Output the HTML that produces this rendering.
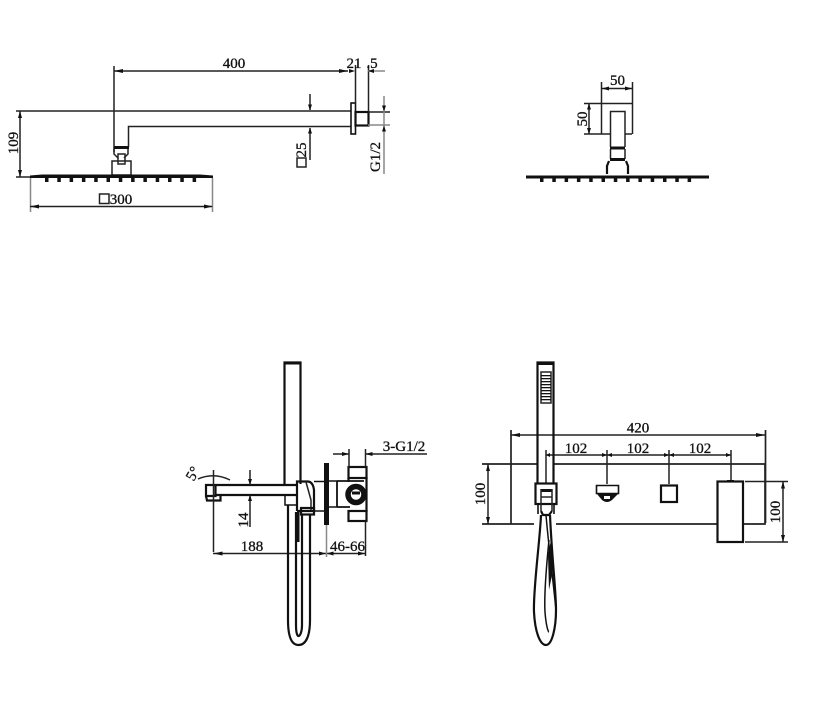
<!DOCTYPE html>
<html><head><meta charset="utf-8"><style>
html,body{margin:0;padding:0;background:#fff;width:818px;height:721px;overflow:hidden}
svg{display:block}
text{font-family:"Liberation Serif",serif;font-size:15px;fill:#111;stroke:#111;stroke-width:.3;text-anchor:middle}
.t{stroke:#111;fill:none;stroke-width:2.200}
.m{stroke:#222;fill:none;stroke-width:1.500}
.g{stroke:#888;fill:none;stroke-width:1.500}
.a{fill:#111;stroke:none}
</style></head><body>
<svg width="818" height="721" viewBox="0 0 818 721">
<defs>
<g id="noz" class="a">
<rect x="0" y="0" width="3.500" height="4"/>
</g>
</defs>

<!-- TOP LEFT: side view -->
<path class="m" d="M114 66V152M114 71H348"/>
<path class="a" d="M114 71l9-2v4zM348 71l-9-2v4z"/>
<path class="m" d="M16 111H351"/>
<path class="m" d="M128.500 147V126.500H351"/>
<rect x="114" y="146" width="15" height="3" class="a"/>
<path class="m" d="M114 149v5l4 4M128 149v5l-4 4"/>
<rect x="118" y="154" width="7" height="10" class="m"/>
<rect x="112" y="161" width="19" height="14" class="m"/>
<rect x="351" y="103" width="4.500" height="31" class="t" style="stroke-width:1.600"/>
<rect x="355.500" y="112" width="13" height="13.500" class="t"/>
<path class="m" d="M355.500 65V103M368.500 65V112"/>
<path class="g" d="M368 71H385"/>
<path class="a" d="M355 71l-6-2v4zM368 71l6-2v4z"/>
<path class="m" d="M368 112H390"/>
<path class="g" d="M368 125H390"/>
<path class="g" d="M384 96V174"/>
<path class="a" d="M384 111.500l-2-6h4zM384 125.500l-2 6h4z"/>
<path class="m" d="M310 94V110M310 128V160"/>
<path class="a" d="M310 110.500l-2-6h4zM310 127.500l-2 6h4z"/>
<rect x="297" y="158" width="9" height="9" class="m"/>
<text transform="translate(306,150) rotate(-90)" x="0" y="0">25</text>
<text transform="translate(380,157) rotate(-90)">G1/2</text>
<text x="234" y="68">400</text>
<text x="354" y="68">21</text>
<text x="372" y="68">.5</text>
<path class="m" d="M20 111V177M16 177H31"/>
<path class="a" d="M20 111l-2 7h4zM20 177l-2-7h4z"/>
<text transform="translate(18,143) rotate(-90)">109</text>
<path class="a" d="M30 175.500L42 174.500H200L213 175.500V178H30z"/>
<g id="nl">
<use href="#noz" x="45" y="178"/><use href="#noz" x="57.300" y="178"/><use href="#noz" x="69.600" y="178"/><use href="#noz" x="81.900" y="178"/><use href="#noz" x="94.200" y="178"/><use href="#noz" x="106.500" y="178"/><use href="#noz" x="118.800" y="178"/><use href="#noz" x="131.100" y="178"/><use href="#noz" x="143.400" y="178"/><use href="#noz" x="155.700" y="178"/><use href="#noz" x="168" y="178"/><use href="#noz" x="180.300" y="178"/><use href="#noz" x="192.600" y="178"/>
</g>
<path class="g" d="M30.500 178V212M212.500 178V212"/>
<path class="m" d="M30 206.500H212"/>
<path class="a" d="M30 206.500l9-2v4zM213 206.500l-9-2v4z"/>
<rect x="99.500" y="194" width="9.500" height="9.500" class="m"/>
<text x="121" y="204">300</text>

<!-- TOP RIGHT: front view -->
<path class="m" d="M601.500 134V103.500H632.500V134"/>
<path class="m" d="M601 134H610M625 134H632"/>
<path class="m" d="M610.500 147V111.500H625V147"/>
<path class="m" d="M584 103.500H601M584 134H601"/>
<path class="m" d="M589 103.500V134"/>
<path class="a" d="M589 103.500l-2 6h4zM589 134l-2-6h4z"/>
<path class="m" d="M601.500 82V103M632.500 82V103M601.500 88.500H632.500"/>
<path class="a" d="M602 88.500l7-2v4zM632 88.500l-7-2v4z"/>
<text x="617.500" y="85">50</text>
<text transform="translate(587,119) rotate(-90)">50</text>
<rect x="610" y="146.500" width="15" height="3" class="a"/>
<path class="m" d="M610.500 149V159M625 149V159"/>
<rect x="610" y="158" width="15" height="3" class="a"/>
<path class="t" d="M609 161L607 166V174M626 161L628 166V174"/>
<path class="a" d="M526 175.500H709V178.500H526z"/>
<use href="#nl" x="495" y="0"/>

<!-- BOTTOM LEFT: side view -->
<path class="t" d="M284.500 484V362.500H300.500V484"/>
<rect x="284" y="362" width="17" height="2.500" class="a"/>
<path class="t" d="M296 485H215.500V496H206V485H216"/>
<path class="t" d="M296 495H216"/>
<path class="t" d="M206 496l1 4.500H220.500V496"/>
<path class="m" d="M213.500 470V552"/>
<path class="m" d="M198 479Q214 472 230 480"/>
<text transform="translate(197,476) rotate(-60)" style="font-size:15px">5°</text>
<path class="m" d="M250 470V485M250 495V527"/>
<path class="a" d="M250 485l-2-6h4zM250 495l-2 6h4z"/>
<text transform="translate(248,520) rotate(-90)">14</text>
<rect x="285" y="495" width="12" height="10" class="t" style="stroke-width:1.500"/>
<path class="t" d="M297 511V481.500H308Q313 482 314 490V511H297"/>
<path class="m" d="M306 482L311 500V510"/>
<rect x="301" y="508" width="13" height="6.500" class="t"/>
<rect x="297" y="510" width="2.500" height="32" class="a"/>
<path class="t" d="M314 481.500H326M314 511H326" style="stroke-width:1.500"/>
<rect x="324" y="463" width="5" height="62" class="a"/>
<path class="t" d="M329 481H337M329 507H337" style="stroke-width:1.500"/>
<path class="t" d="M337 481V507M337 481H364M337 507H350" style="stroke-width:1.800"/>
<rect x="348.500" y="467" width="18" height="11" class="t"/>
<rect x="348.500" y="511" width="18" height="10" class="t"/>
<path class="t" d="M348.500 478V482M366.500 477V512"/>
<circle cx="356" cy="494.500" r="8" style="fill:none;stroke:#111;stroke-width:5.500"/>
<rect x="352" y="491.500" width="8" height="3" class="a"/>
<path class="m" d="M349 449V467M365.500 449V467"/>
<path class="m" d="M333 454H349M365.500 454H427"/>
<path class="a" d="M349 454l-7-2v4zM365.500 454l7-2v4z"/>
<text x="404" y="451">3-G1/2</text>
<path class="m" d="M213 553.500H365"/>
<path class="a" d="M213.500 553.500l9-2v4zM326 553.500l-7-2v4zM326.500 553.500l7-2v4zM365 553.500l-7-2v4z"/>
<path class="g" d="M326.500 525V557"/>
<path class="m" d="M365.500 521V556"/>
<text x="252" y="551">188</text>
<text x="347.500" y="551">46-66</text>
<path class="t" d="M288 505V620C288 636 291 645 298.500 645C306 645 310 636 310 620V514"/>
<path class="t" d="M296 512V625C296 632 297 636 298.500 636C300 636 302 632 302 625V514"/>

<!-- BOTTOM RIGHT: front view -->
<path class="m" d="M482 464H537M554 464H765V524H743M717 524H556M534 524H482" style="stroke-width:1.700"/>
<path class="m" d="M511 430V524M765.500 430V523" style="stroke-width:1.700"/>
<path class="m" d="M511 435H765"/>
<path class="a" d="M511 435l9-2v4zM765 435l-9-2v4z"/>
<text x="638" y="432.500">420</text>
<path class="m" d="M546 450V484M607 450V484M669 450V484M731 450V481"/>
<path class="m" d="M546 455H731"/>
<path class="a" d="M546 455l4-2v4zM607 455l-5-2v4zM607 455l5-2v4zM669 455l-5-2v4zM669 455l5-2v4zM731 455l-5-2v4z"/>
<text x="576" y="453">102</text>
<text x="638" y="453">102</text>
<text x="700" y="453">102</text>
<path class="m" d="M488 464V524"/>
<path class="a" d="M488 464l-2 7h4zM488 524l-2-7h4z"/>
<text transform="translate(485,494) rotate(-90)">100</text>
<path class="t" d="M537.500 483V362.500H553.500V483"/>
<rect x="537" y="362" width="17" height="3" class="a"/>
<rect x="541" y="372" width="10" height="31" class="m"/>
<g class="a">
<rect x="541" y="375" width="10" height="1.300"/><rect x="541" y="378" width="10" height="1.300"/><rect x="541" y="381" width="10" height="1.300"/><rect x="541" y="384" width="10" height="1.300"/><rect x="541" y="387" width="10" height="1.300"/><rect x="541" y="390" width="10" height="1.300"/><rect x="541" y="393" width="10" height="1.300"/><rect x="541" y="396" width="10" height="1.300"/><rect x="541" y="399" width="10" height="1.300"/>
</g>
<rect x="535.500" y="483.500" width="21" height="20.500" class="t" style="fill:#fff"/>
<rect x="541" y="489" width="11" height="3" class="a"/>
<path class="m" d="M541 489V511M552 489V511M541 497H552"/>
<path class="t" d="M538 504V514M554 504V514" style="stroke-width:1.600"/>
<path class="t" d="M541 511L543 515H549L552 511"/>
<path class="t" d="M541 515C540 540 533 590 534 612C535 632 540 645 546 645C552 645 556 628 556 610C556 590 552 560 550 515"/>
<path class="t" d="M549 540C546 570 544 595 545 612C546 625 548 632 549 632M546 515C548 540 552 570 556 610" style="stroke-width:1.500"/>
<path d="M548 555L552 535L553 570L549 590z" class="a"/>

<path d="M596.500 485.500H618.500V493.500H596.500z" class="t" style="stroke-width:1.600"/>
<path d="M597 494L602 500Q607 504 612 500L618 494z" class="a"/>
<rect x="604" y="496" width="6" height="3" style="fill:#fff"/>
<rect x="661" y="485.500" width="16" height="16.500" class="t"/>
<rect x="717.500" y="481.500" width="25.500" height="60.500" class="t"/>
<rect x="727" y="480" width="7" height="2" class="a"/>
<path class="m" d="M745 481.500H788M745 542H788M783 481.500V542"/>
<path class="a" d="M783 481.500l-2 7h4zM783 542l-2-7h4z"/>
<text transform="translate(780,512) rotate(-90)">100</text>
</svg>
</body></html>
